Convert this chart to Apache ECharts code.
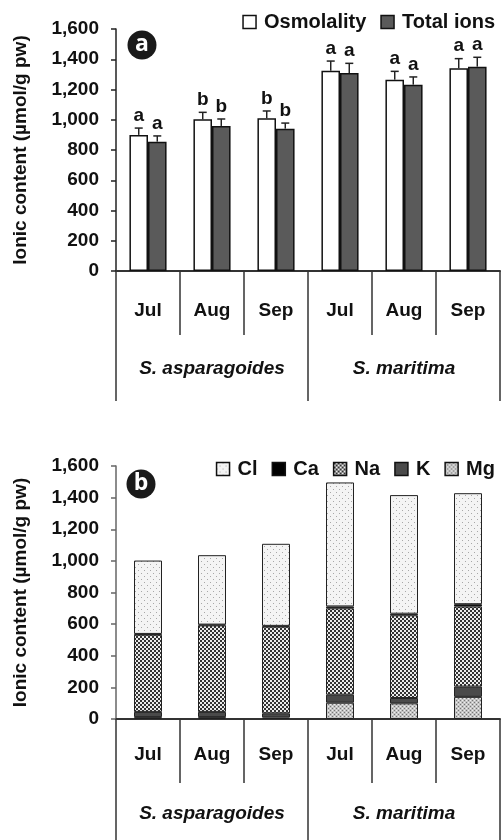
<!DOCTYPE html>
<html><head><meta charset="utf-8">
<script src="https://cdn.jsdelivr.net/npm/echarts@6/dist/echarts.min.js"></script>
<style>html,body{margin:0;padding:0;background:#fff}#c{width:502px;height:840px}</style>
</head><body><div id="c"></div>
<script>
// ---- data ----
const months = ['Jul','Aug','Sep','Jul','Aug','Sep'];
const species = ['S. asparagoides','S. maritima'];
const yTicks = [0,200,400,600,800,1000,1200,1400,1600];
const osmolality = [900, 1003, 1010, 1324, 1265, 1340];
const osmolalityErr = [45, 46, 48, 64, 55, 64];
const osmolalityLetters = ['a','b','b','a','a','a'];
const totalIons = [855, 959, 941, 1309, 1232, 1351];
const totalIonsErr = [38, 46, 37, 64, 51, 62];
const totalIonsLetters = ['a','b','b','a','a','a'];
// stacked ions (bottom to top: Mg, K, Na, Ca, Cl)
const Mg = [12, 12, 10, 103, 99, 140];
const K  = [33, 33, 26, 51, 34, 65];
const Na = [488, 547, 548, 546, 523, 506];
const Ca = [5, 5, 5, 12, 10, 15];
const Cl = [464, 439, 519, 784, 750, 702];

const FONT = 'Liberation Sans, Arial, sans-serif';
function pat(w,h,bg,draw){const c=document.createElement('canvas');c.width=w;c.height=h;const g=c.getContext('2d');g.fillStyle=bg;g.fillRect(0,0,w,h);draw(g);return {image:c,repeat:'repeat'};}
const clPat = pat(6,6,'#f4f4f4',g=>{g.fillStyle='#a8a8a8';g.fillRect(0,0,1,1);g.fillRect(3,3,1,1);});
const naPat = pat(4,4,'#ececec',g=>{g.fillStyle='#333';g.fillRect(0,0,2,2);g.fillRect(2,2,2,2);});
const mgPat = pat(4,4,'#c4c4c4',g=>{g.fillStyle='#777';g.fillRect(0,0,1,1);g.fillRect(2,2,1,1);g.fillStyle='#eee';g.fillRect(2,0,1,1);g.fillRect(0,2,1,1);});

const chart = echarts.init(document.getElementById('c'), null, {renderer:'canvas'});
const fmt = v => v.toLocaleString('en-US');
function yAxis(gi, lineColor){
  return {type:'value', gridIndex:gi, min:yTicks[0], max:yTicks[yTicks.length-1], interval:yTicks[1]-yTicks[0],
    name:'Ionic content (µmol/g pw)', nameLocation:'middle', nameGap:86, nameRotate:90,
    nameTextStyle:{fontFamily:FONT, fontWeight:'bold', fontSize:19, color:'#111'},
    axisLine:{show:true, lineStyle:{color:lineColor, width:1.5}},
    axisTick:{show:true, inside:false, length:5, lineStyle:{color:lineColor, width:1.5}},
    axisLabel:{margin:17, formatter:fmt, fontFamily:FONT, fontWeight:'bold', fontSize:19, color:'#111'},
    splitLine:{show:false}};
}
function monthAxis(gi, margin){
  return {type:'category', gridIndex:gi, data:months, position:'bottom', boundaryGap:true,
    axisLine:{show:true, onZero:false, lineStyle:{color:'#333', width:2}},
    axisTick:{show:true, interval:0, length:64, lineStyle:{color:'#333', width:1.5}},
    axisLabel:{interval:0, margin:margin, fontFamily:FONT, fontWeight:'bold', fontSize:19, color:'#111'}};
}
function groupAxis(gi, margin){
  return {type:'category', gridIndex:gi, data:species, position:'bottom', boundaryGap:true,
    axisLine:{show:false},
    axisTick:{show:true, interval:0, length:130, lineStyle:{color:'#333', width:1.5}},
    axisLabel:{interval:0, margin:margin, fontFamily:FONT, fontWeight:'bold', fontStyle:'italic', fontSize:19, color:'#111'}};
}
const errData = [];
osmolality.forEach((v,i)=>errData.push([i, v, osmolalityErr[i], 0, i]));
totalIons.forEach((v,i)=>errData.push([i, v, totalIonsErr[i], 1, i]));
const GAP = 0.42;

const border = {borderColor:'#222', borderWidth:1};
const option = {
  animation:false,
  grid:[{left:116, right:2, top:29, height:242},{left:116, right:2, top:466, height:253}],
  legend:[
    {data:['Osmolality','Total ions'], top:7, right:2, icon:'rect', itemWidth:13, itemHeight:13, itemGap:14,
     itemStyle:{borderColor:'#111', borderWidth:1.5},
     textStyle:{fontFamily:FONT, fontWeight:'bold', fontSize:20, color:'#111', padding:[0,0,0,3]}},
    {data:['Cl','Ca','Na','K','Mg'], top:454, right:2, icon:'rect', itemWidth:13, itemHeight:13, itemGap:14,
     itemStyle:{borderColor:'#111', borderWidth:1.5},
     textStyle:{fontFamily:FONT, fontWeight:'bold', fontSize:20, color:'#111', padding:[0,0,0,3]}}
  ],
  xAxis:[monthAxis(0,30), groupAxis(0,88), monthAxis(1,26), groupAxis(1,85)],
  yAxis:[yAxis(0,'#222'), yAxis(1,'#666')],
  graphic:[
    {type:'circle', shape:{cx:142, cy:45, r:14.5}, style:{fill:'#1a1a1a'}},
    {type:'text', x:142, y:44, style:{text:'a', align:'center', verticalAlign:'middle', font:'bold 23px "Open Sans", sans-serif', fill:'#fff'}},
    {type:'circle', shape:{cx:141, cy:484, r:14.5}, style:{fill:'#1a1a1a'}},
    {type:'text', x:141, y:483, style:{text:'b', align:'center', verticalAlign:'middle', font:'bold 23px "Open Sans", sans-serif', fill:'#fff'}}
  ],
  series:[
    {name:'Osmolality', type:'bar', xAxisIndex:0, yAxisIndex:0, data:osmolality, barGap:'0%', barCategoryGap:(GAP*100)+'%',
     itemStyle:{color:'#ffffff', borderColor:'#111', borderWidth:1.5}},
    {name:'Total ions', type:'bar', xAxisIndex:0, yAxisIndex:0, data:totalIons, barGap:'0%', barCategoryGap:(GAP*100)+'%',
     itemStyle:{color:'#5a5a5a', borderColor:'#111', borderWidth:1.5}},
    {type:'custom', xAxisIndex:0, yAxisIndex:0, z:5, data:errData,
     renderItem:function(params, api){
       const c=api.value(0), v=api.value(1), e=api.value(2), k=api.value(3), i=api.value(4);
       const p=api.coord([c,v]), pt=api.coord([c,v+e]);
       const catW=api.size([1,0])[0];
       const bw=catW*(1-GAP)/2;
       const x=p[0]+(k===0?-bw/2:bw/2);
       const letter = k===0 ? osmolalityLetters[i] : totalIonsLetters[i];
       const st={stroke:'#222', lineWidth:1.5};
       return {type:'group', children:[
         {type:'line', shape:{x1:x,y1:p[1],x2:x,y2:pt[1]}, style:st},
         {type:'line', shape:{x1:x-4,y1:pt[1],x2:x+4,y2:pt[1]}, style:st},
         {type:'text', x:x, y:pt[1]-3, style:{text:letter, align:'center', verticalAlign:'bottom', font:'bold 19px '+FONT, fill:'#111'}}
       ]};
     }},
    {name:'Mg', type:'bar', stack:'ions', xAxisIndex:2, yAxisIndex:1, data:Mg, barWidth:28, itemStyle:Object.assign({color:mgPat}, border)},
    {name:'K', type:'bar', stack:'ions', xAxisIndex:2, yAxisIndex:1, data:K, barWidth:28, itemStyle:Object.assign({color:'#4a4a4a'}, border)},
    {name:'Na', type:'bar', stack:'ions', xAxisIndex:2, yAxisIndex:1, data:Na, barWidth:28, itemStyle:Object.assign({color:naPat}, border)},
    {name:'Ca', type:'bar', stack:'ions', xAxisIndex:2, yAxisIndex:1, data:Ca, barWidth:28, itemStyle:Object.assign({color:'#000'}, border)},
    {name:'Cl', type:'bar', stack:'ions', xAxisIndex:2, yAxisIndex:1, data:Cl, barWidth:28, itemStyle:Object.assign({color:clPat}, border)}
  ]
};
chart.setOption(option);
</script></body></html>
